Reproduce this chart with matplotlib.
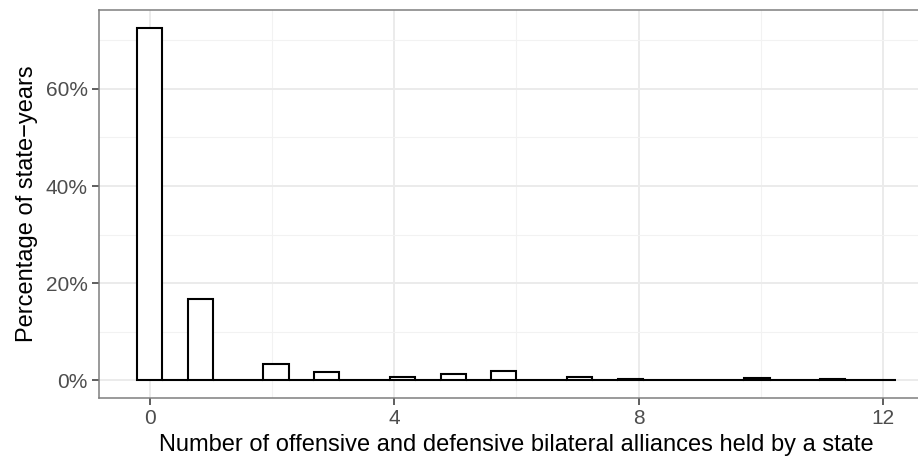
import numpy as np
import matplotlib
matplotlib.use("Agg")
import matplotlib.pyplot as plt
from matplotlib.ticker import MultipleLocator, FuncFormatter

# Data: number of alliances held and percentage of state-years
alliances = [0, 1, 2, 3, 4, 5, 6, 7, 8, 9, 10, 11, 12]
percent = [72.6, 16.7, 3.4, 1.7, 0.7, 1.4, 1.9, 0.7, 0.2, 0.1, 0.4, 0.2, 0.1]
x_ticks = [0, 4, 8, 12]
y_ticks = [0, 20, 40, 60]
x_label = "Number of offensive and defensive bilateral alliances held by a state"
y_label = "Percentage of state\u2212years"

# ggplot2-style histogram bins (30 bins over the range)
nbins = 30
lo, hi = min(alliances), max(alliances)
w = (hi - lo) / (nbins - 1)
centers = lo + w * np.arange(nbins)
heights = np.zeros(nbins)
for v, p in zip(alliances, percent):
    idx = int(np.ceil((v - lo) / w - 0.5 - 1e-9))
    heights[idx] += p

plt.rcParams['font.family'] = ['Liberation Sans', 'DejaVu Sans']

W, H = 918, 458
fig = plt.figure(figsize=(W / 100, H / 100), dpi=100)
# panel in pixel coords: left 99, right 934 (cropped), top 10, bottom 398
left, right, top, bottom = 99, 934, 10, 398
ax = fig.add_axes([left / W, 1 - bottom / H, (right - left) / W, (bottom - top) / H])

ax.bar(centers, heights, width=w, facecolor='white', edgecolor='black',
       linewidth=1.5, zorder=3)

xr = (hi + w / 2) - (lo - w / 2)
ax.set_xlim(lo - w / 2 - 0.05 * xr, hi + w / 2 + 0.05 * xr)
ymax = max(heights)
ax.set_ylim(-0.05 * ymax, ymax * 1.05)

ax.set_xticks(x_ticks)
ax.set_yticks(y_ticks)
ax.xaxis.set_minor_locator(MultipleLocator(2))
ax.yaxis.set_minor_locator(MultipleLocator(10))
ax.yaxis.set_major_formatter(FuncFormatter(lambda v, p: f"{v:.0f}%"))

ax.grid(which='major', color='#EBEBEB', linewidth=1.4, zorder=0)
ax.grid(which='minor', color='#F2F2F2', linewidth=0.8, zorder=0)
ax.set_axisbelow(True)

for s in ax.spines.values():
    s.set_color('#7F7F7F')
    s.set_linewidth(1.1)

ax.tick_params(which='major', length=5, width=1.1, color='#333333',
               labelsize=15, labelcolor='#4D4D4D', pad=3)
ax.tick_params(which='minor', length=0)

ax.set_xlabel(x_label, fontsize=17, color='black', labelpad=4)
ax.set_ylabel(y_label, fontsize=17, color='black', labelpad=6)

fig.savefig("out.png", dpi=100)
